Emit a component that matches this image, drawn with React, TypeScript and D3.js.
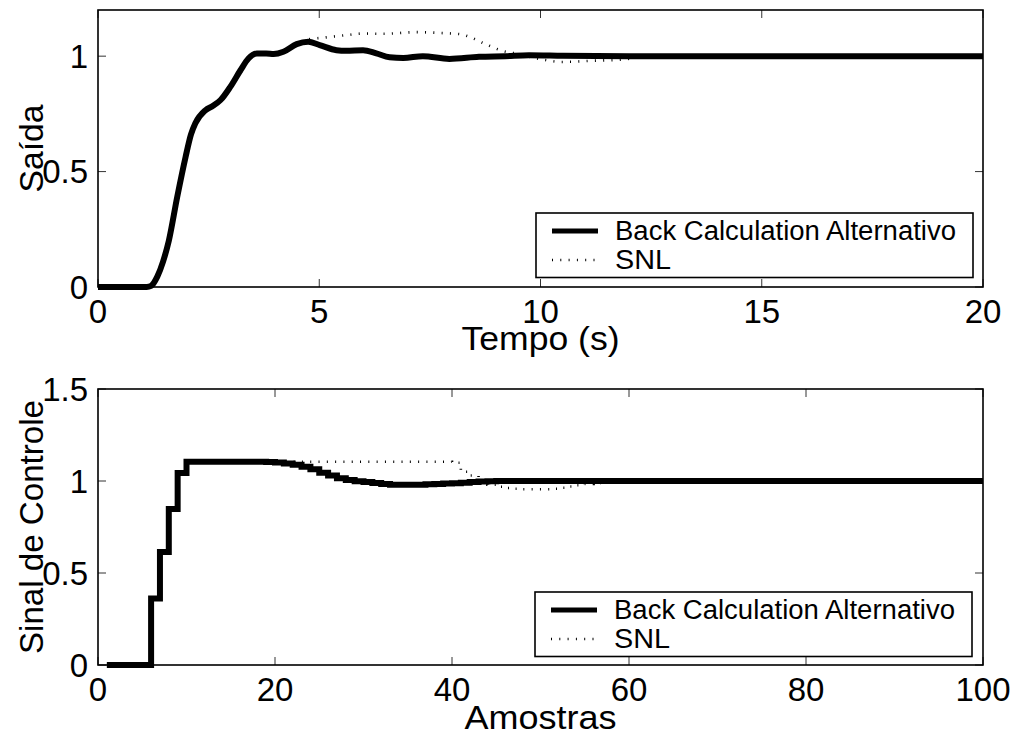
import React from "react";
import * as d3 from "d3";

// Output response (Saída) vs time, seconds
const tempoBCA = [0, 1.1, 1.2, 1.34, 1.47, 1.6, 1.79, 1.98, 2.1, 2.2, 2.43, 2.6, 2.77, 2.99, 3.22, 3.4, 3.59, 3.8, 3.97, 4.19, 4.49, 4.75, 5.01, 5.39, 5.61, 5.99, 6.29, 6.59, 6.9, 7.34, 7.94, 8.61, 9.2, 9.74, 10.5, 12, 20];
const saidaBCA = [0, 0, 0.005, 0.045, 0.11, 0.2, 0.39, 0.564, 0.66, 0.709, 0.766, 0.785, 0.81, 0.867, 0.939, 0.99, 1.012, 1.012, 1.009, 1.019, 1.052, 1.062, 1.048, 1.026, 1.023, 1.026, 1.012, 0.995, 0.992, 1.0, 0.988, 0.997, 1.0, 1.004, 1.002, 1.0, 1.0];

const tempoSNL = [0, 1.1, 1.2, 1.34, 1.47, 1.6, 1.79, 1.98, 2.1, 2.2, 2.43, 2.6, 2.77, 2.99, 3.22, 3.4, 3.59, 3.8, 3.97, 4.19, 4.49, 4.75, 5.09, 5.61, 5.99, 6.44, 7.19, 7.79, 8.2, 8.39, 8.76, 9.14, 9.51, 9.8, 10.11, 10.49, 11.16, 11.91, 12.3, 20];
const saidaSNL = [0, 0, 0.005, 0.045, 0.11, 0.2, 0.39, 0.564, 0.66, 0.709, 0.766, 0.785, 0.81, 0.867, 0.939, 0.99, 1.012, 1.012, 1.009, 1.019, 1.052, 1.072, 1.08, 1.091, 1.098, 1.097, 1.104, 1.1, 1.095, 1.084, 1.052, 1.023, 1.009, 0.995, 0.983, 0.975, 0.98, 0.986, 1.0, 1.0];

// Control signal vs sample index (1..100)
const amostras = d3.range(1, 101);
const controleBCA = [
  0, 0, 0, 0, 0, 0.361, 0.614, 0.848, 1.043, 1.105,
  1.105, 1.105, 1.105, 1.105, 1.105, 1.105, 1.105, 1.105, 1.103, 1.1,
  1.095, 1.088, 1.078, 1.064, 1.045, 1.03, 1.015, 1.005, 0.998, 0.994,
  0.989, 0.984, 0.98, 0.98, 0.98, 0.98, 0.982, 0.984, 0.986, 0.988,
  0.991, 0.994, 0.997, 0.999, 1, 1, 1, 1, 1, 1,
  1, 1, 1, 1, 1, 1, 1, 1, 1, 1,
  1, 1, 1, 1, 1, 1, 1, 1, 1, 1,
  1, 1, 1, 1, 1, 1, 1, 1, 1, 1,
  1, 1, 1, 1, 1, 1, 1, 1, 1, 1,
  1, 1, 1, 1, 1, 1, 1, 1, 1, 1,
];
const controleSNL = [
  0, 0, 0, 0, 0, 0.361, 0.614, 0.848, 1.043, 1.105,
  1.105, 1.105, 1.105, 1.105, 1.105, 1.105, 1.105, 1.105, 1.105, 1.105,
  1.105, 1.105, 1.105, 1.105, 1.105, 1.105, 1.105, 1.105, 1.105, 1.105,
  1.105, 1.105, 1.105, 1.105, 1.105, 1.105, 1.105, 1.105, 1.105, 1.099,
  1.05, 1.03, 1.0, 0.98, 0.969, 0.962, 0.958, 0.955, 0.955, 0.955,
  0.958, 0.963, 0.97, 0.977, 0.984, 0.99, 0.995, 0.998, 1, 1,
  1, 1, 1, 1, 1, 1, 1, 1, 1, 1,
  1, 1, 1, 1, 1, 1, 1, 1, 1, 1,
  1, 1, 1, 1, 1, 1, 1, 1, 1, 1,
  1, 1, 1, 1, 1, 1, 1, 1, 1, 1,
];

const topXTicks = [0, 5, 10, 15, 20];
const topYTicks = [0, 0.5, 1];
const botXTicks = [0, 20, 40, 60, 80, 100];
const botYTicks = [0, 0.5, 1, 1.5];
const legendLabels = ["Back Calculation Alternativo", "SNL"];

const FONT = "'Liberation Sans', Arial, Helvetica, sans-serif";
const DOTS = "1 7.3";

type Box = { left: number; right: number; top: number; bottom: number };

function fmt(v: number) {
  return String(v);
}

function Frame({ box, x, y, xTicks, yTicks, xLabel, yLabel, xLabelY, xLabelLen, yLabelLen }: {
  box: Box;
  x: d3.ScaleLinear<number, number>;
  y: d3.ScaleLinear<number, number>;
  xTicks: number[];
  yTicks: number[];
  xLabel: string;
  yLabel: string;
  xLabelY: number;
  xLabelLen: number;
  yLabelLen: number;
}) {
  const tl = 8;
  return (
    <g>
      {xTicks.map((t) => (
        <g key={"x" + t}>
          <line x1={x(t)} x2={x(t)} y1={box.bottom} y2={box.bottom - tl} stroke="#333" strokeWidth={1} />
          <line x1={x(t)} x2={x(t)} y1={box.top} y2={box.top + tl} stroke="#333" strokeWidth={1} />
          <text x={x(t)} y={box.bottom + 36} textAnchor="middle" fontSize={33} fontFamily={FONT}>{fmt(t)}</text>
        </g>
      ))}
      {yTicks.map((t) => (
        <g key={"y" + t}>
          <line x1={box.left} x2={box.left + tl} y1={y(t)} y2={y(t)} stroke="#333" strokeWidth={1} />
          <line x1={box.right} x2={box.right - tl} y1={y(t)} y2={y(t)} stroke="#333" strokeWidth={1} />
          <text x={88} y={y(t) + 11.5} textAnchor="end" fontSize={33} fontFamily={FONT}>{fmt(t)}</text>
        </g>
      ))}
      <rect x={box.left} y={box.top} width={box.right - box.left} height={box.bottom - box.top} fill="none" stroke="#000" strokeWidth={1.6} />
      <text x={(box.left + box.right) / 2} y={xLabelY} textAnchor="middle" fontSize={33} fontFamily={FONT} textLength={xLabelLen} lengthAdjust="spacingAndGlyphs">{xLabel}</text>
      <text transform={`translate(43,${(box.top + box.bottom) / 2}) rotate(-90)`} textAnchor="middle" fontSize={33} fontFamily={FONT} textLength={yLabelLen} lengthAdjust="spacingAndGlyphs">{yLabel}</text>
    </g>
  );
}

function Legend({ x0, y0 }: { x0: number; y0: number }) {
  const w = 437;
  const h = 64.5;
  return (
    <g>
      <rect x={x0} y={y0} width={w} height={h} fill="#fff" stroke="#000" strokeWidth={1.6} />
      <line x1={x0 + 16} x2={x0 + 62} y1={y0 + 18} y2={y0 + 18} stroke="#000" strokeWidth={5} />
      <line x1={x0 + 16} x2={x0 + 62} y1={y0 + 47} y2={y0 + 47} stroke="#000" strokeWidth={2.6} strokeDasharray={DOTS} />
      <text x={x0 + 79} y={y0 + 27} fontSize={27} fontFamily={FONT} textLength={341} lengthAdjust="spacingAndGlyphs">{legendLabels[0]}</text>
      <text x={x0 + 79} y={y0 + 56} fontSize={27} fontFamily={FONT} textLength={56} lengthAdjust="spacingAndGlyphs">{legendLabels[1]}</text>
    </g>
  );
}

export default function App() {
  const topBox: Box = { left: 98, right: 983, top: 10, bottom: 287 };
  const botBox: Box = { left: 98, right: 983, top: 389, bottom: 665 };

  const xTop = d3.scaleLinear().domain([0, 20]).range([topBox.left, topBox.right]);
  const yTop = d3.scaleLinear().domain([0, 1.2]).range([topBox.bottom, topBox.top]);
  const xBot = d3.scaleLinear().domain([0, 100]).range([botBox.left, botBox.right]);
  const yBot = d3.scaleLinear().domain([0, 1.5]).range([botBox.bottom, botBox.top]);

  const smooth = d3.line<[number, number]>().x((d) => xTop(d[0])).y((d) => yTop(d[1])).curve(d3.curveMonotoneX);
  const stairs = d3.line<[number, number]>().x((d) => xBot(d[0])).y((d) => yBot(d[1])).curve(d3.curveStepAfter);

  const topB = smooth(tempoBCA.map((t, i) => [t, saidaBCA[i]] as [number, number])) || "";
  const topS = smooth(tempoSNL.map((t, i) => [t, saidaSNL[i]] as [number, number])) || "";
  const botB = stairs(amostras.map((k, i) => [k, controleBCA[i]] as [number, number])) || "";
  const botS = stairs(amostras.map((k, i) => [k, controleSNL[i]] as [number, number])) || "";

  return (
    <svg width={1018} height={736} style={{ position: "absolute", left: 0, top: 0, background: "#fff" }}>
      <rect width={1018} height={736} fill="#fff" />
      <Frame box={topBox} x={xTop} y={yTop} xTicks={topXTicks} yTicks={topYTicks} xLabel="Tempo (s)" yLabel="Saída" xLabelY={350} xLabelLen={158} yLabelLen={88} />
      <path d={topB} fill="none" stroke="#000" strokeWidth={6} strokeLinejoin="round" />
      <path d={topS} fill="none" stroke="#000" strokeWidth={2.6} strokeDasharray={DOTS} />
      <Legend x0={536} y0={213} />

      <Frame box={botBox} x={xBot} y={yBot} xTicks={botXTicks} yTicks={botYTicks} xLabel="Amostras" yLabel="Sinal de Controle" xLabelY={729} xLabelLen={152} yLabelLen={254} />
      <path d={botB} fill="none" stroke="#000" strokeWidth={6} />
      <path d={botS} fill="none" stroke="#000" strokeWidth={2.6} strokeDasharray={DOTS} />
      <Legend x0={535} y0={592} />
    </svg>
  );
}
